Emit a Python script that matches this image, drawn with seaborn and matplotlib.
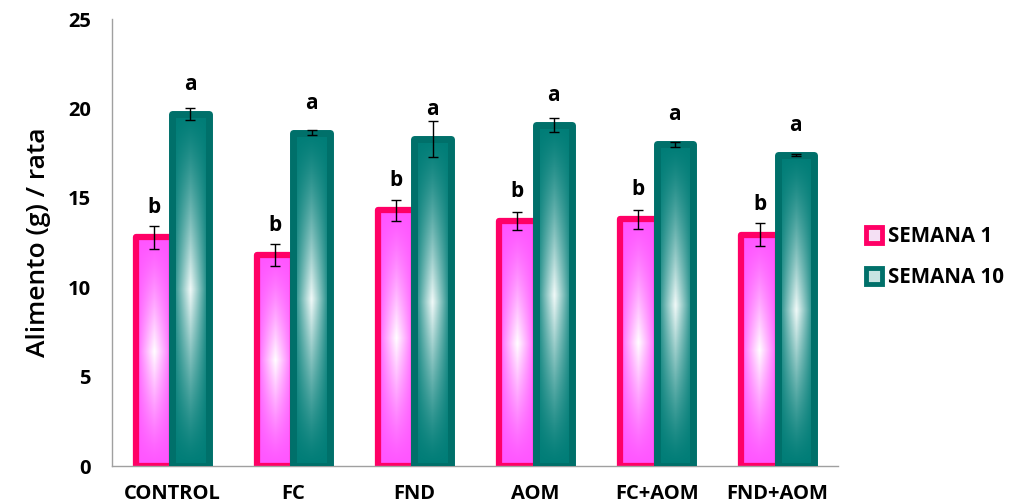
import numpy as np
import pandas as pd
import seaborn as sns
import matplotlib.pyplot as plt
from matplotlib.colors import to_rgb
from matplotlib.lines import Line2D

# data
groups = ["CONTROL", "FC", "FND", "AOM", "FC+AOM", "FND+AOM"]
semana1 = [12.8, 11.8, 14.3, 13.7, 13.8, 12.95]
semana1_err = [0.65, 0.6, 0.6, 0.5, 0.55, 0.65]
semana10 = [19.7, 18.65, 18.3, 19.1, 18.0, 17.4]
semana10_err = [0.35, 0.15, 1.0, 0.4, 0.15, 0.04]
letters1 = ["b", "b", "b", "b", "b", "b"]
letters10 = ["a", "a", "a", "a", "a", "a"]
series = ["SEMANA 1", "SEMANA 10"]

df = pd.DataFrame({
    "grupo": groups * 2,
    "semana": [series[0]] * len(groups) + [series[1]] * len(groups),
    "alimento": semana1 + semana10,
})
errs = semana1_err + semana10_err
letters = letters1 + letters10

edge_cols = {series[0]: "#FF0066", series[1]: "#00706A"}
base_cols = {series[0]: "#FF55FF", series[1]: "#007D77"}
light_cols = {series[0]: "#FFFFFF", series[1]: "#F2FAF9"}

sns.set_style("white")
plt.rcParams["font.family"] = ["Open Sans", "DejaVu Sans"]
plt.rcParams["text.color"] = "black"
plt.rcParams["axes.labelcolor"] = "black"
plt.rcParams["xtick.labelcolor"] = "black"
plt.rcParams["ytick.labelcolor"] = "black"

fig = plt.figure(figsize=(10.16, 5.04), dpi=100)
ax = fig.add_axes([0.110, 0.075, 0.715, 0.887])

sns.barplot(data=df, x="grupo", y="alimento", hue="semana", order=groups,
            hue_order=series, palette=base_cols, width=0.6, gap=0,
            errorbar=None, legend=False, ax=ax)

ax.set_ylim(0, 25)
ax.set_xlim(-0.5, len(groups) - 0.5)


def gradient(base, light, n=200):
    yy, xx = np.mgrid[0:1:n * 1j, 0:1:60j]
    v = np.clip(1 - np.abs(2 * yy - 1), 0, 1)
    h = np.clip(1 - np.abs(2 * xx - 1), 0, 1)
    t = (v ** 1.3) * (h ** 0.9)
    b = np.array(to_rgb(base))
    l = np.array(to_rgb(light))
    return b[None, None, :] * (1 - t[..., None]) + l[None, None, :] * t[..., None]


patches = list(ax.patches)
for i, p in enumerate(patches):
    s = series[i // len(groups)]
    x0, w, h = p.get_x(), p.get_width(), p.get_height()
    img = ax.imshow(gradient(base_cols[s], light_cols[s]),
                    extent=[x0, x0 + w, 0, h], aspect="auto", origin="lower",
                    zorder=1.5 + i // len(groups))
    img.set_clip_path(p)
    p.set_facecolor("none")
    p.set_edgecolor(edge_cols[s])
    p.set_linewidth(4.5 if i < len(groups) else 5)
    p.set_joinstyle("round")
    p.set_zorder(1.6 + i // len(groups))
    cx = x0 + w / 2
    ax.errorbar(cx, h, yerr=errs[i], color="black", lw=1, capsize=3.5,
                capthick=1, zorder=4)
    ax.text(cx, h + 1.35, letters[i], ha="center", va="baseline",
            fontsize=15, fontweight="bold", color="black")

ax.set_xlabel("")
ax.set_ylabel("Alimento (g) / rata", fontsize=19, fontweight="semibold",
              labelpad=12)
ax.set_yticks(range(0, 26, 5))
ax.tick_params(axis="y", direction="out", length=5, width=1, color="#A0A0A0",
               pad=10, labelsize=14.5)
ax.tick_params(axis="x", length=0, pad=13, labelsize=14.5)
for lab in ax.get_xticklabels() + ax.get_yticklabels():
    lab.set_fontweight("bold")

# category boundary ticks on the x axis
ax.set_xticks(np.arange(-0.5, len(groups), 1.0), minor=True)
ax.tick_params(axis="x", which="minor", direction="out", length=6, width=1,
               color="#A0A0A0")

sns.despine(ax=ax, top=True, right=True)
for sp in ["left", "bottom"]:
    ax.spines[sp].set_color("#A0A0A0")
    ax.spines[sp].set_linewidth(1)

handles = [Line2D([], [], marker="s", ls="none", markersize=11,
                  markerfacecolor="#F4E0F4" if s == series[0] else "#C8E4E2",
                  markeredgecolor=edge_cols[s], markeredgewidth=3.5)
           for s in series]
fig.legend(handles, series, loc="center left", bbox_to_anchor=(0.838, 0.49),
           frameon=False, handletextpad=0.0, handlelength=1.4,
           labelspacing=1.0, borderaxespad=0.0,
           prop={"weight": "bold", "size": 14.8})

fig.savefig("out.png", dpi=100)
